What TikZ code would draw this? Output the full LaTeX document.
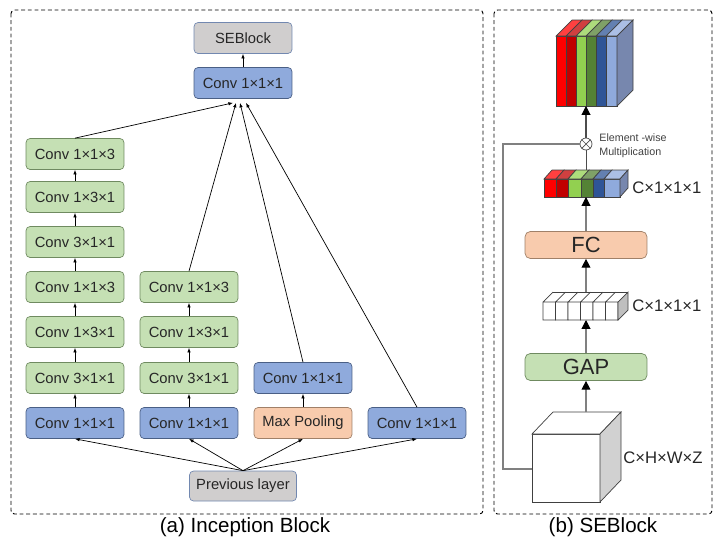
\documentclass[tikz,border=0pt]{standalone}
\usepackage{fontspec}
\setmainfont{Liberation Sans}
\usepackage{tikz}
\usetikzlibrary{arrows.meta, calc, positioning}
\usepackage{xcolor}
% colori dei blocchi
\definecolor{bluconv}{HTML}{8FAADC}
\definecolor{bordoblu}{HTML}{4A5F85}
\definecolor{verdeconv}{HTML}{C5E0B4}
\definecolor{bordoverde}{HTML}{6F8A60}
\definecolor{arancio}{HTML}{F8CBAD}
\definecolor{bordoarancio}{HTML}{A08068}
\definecolor{grigiobox}{HTML}{D0CECE}
% colori delle fette
\definecolor{fetta1}{HTML}{FF0000}
\definecolor{fetta2}{HTML}{C00000}
\definecolor{fetta3}{HTML}{92D050}
\definecolor{fetta4}{HTML}{548235}
\definecolor{fetta5}{HTML}{2F5597}
\definecolor{fetta6}{HTML}{8FAADC}
\definecolor{latoblu}{HTML}{7787AE}

\begin{document}
\begin{tikzpicture}[x=0.02cm, y=-0.02cm,
    blocco/.style = {draw, rounded corners = 2.3pt, minimum width = 1.96cm, minimum height = 0.62cm, inner sep = 0pt, text = black!85, font = \fontsize{8.4}{10}\selectfont},
    conv/.style = {blocco, fill = bluconv, draw = bordoblu},
    verde/.style = {blocco, fill = verdeconv, draw = bordoverde},
    pool/.style = {blocco, fill = arancio, draw = bordoarancio},
    grigio/.style = {blocco, fill = grigiobox, draw = bluconv!80!black},
    grande/.style = {draw, rounded corners = 3pt, minimum width = 2.44cm, minimum height = 0.54cm, inner sep = 0pt, text = black!85, font = \fontsize{12.5}{14}\selectfont},
    freccia/.style = {-{Latex[length = 2.6pt, width = 2pt]}, line width = 0.4pt},
    frecciaSE/.style = {-{Triangle[length = 5pt, width = 5pt, color = black]}, draw = gray, line width = 0.6pt},
    cornice/.style = {dash pattern = on 2.2pt off 1.6pt, line width = 0.55pt, rounded corners = 2pt},
    faccia/.style = {draw = black!75, line width = 0.4pt},
    etichetta/.style = {anchor = west, inner sep = 0pt, text = black!85, font = \fontsize{9.5}{11}\selectfont}
]
    \useasboundingbox (0,0) rectangle (714,542);
    % Cornici
    \draw[cornice] (11,10) rectangle (483,514);
    \draw[cornice] (494,10) rectangle (712,514);
    \node[font = \fontsize{11.7}{14}\selectfont] (didaA) at (245,527) {(a) Inception Block};
    \node[font = \fontsize{11.7}{14}\selectfont] (didaB) at (603,527) {(b) SEBlock};
    % Uscita del blocco Inception
    \node[grigio] (se) at (243,38) {SEBlock};
    \node[conv] (uscita) at (243,83) {Conv 1×1×1};
    \draw[freccia] (uscita.north) -- (se.south);
    % Ramo 1
    \node[conv] (r1a) at (75,423) {Conv 1×1×1};
    \node[verde] (r1b) at (75,378) {Conv 3×1×1};
    \node[verde] (r1c) at (75,332) {Conv 1×3×1};
    \node[verde] (r1d) at (75,287) {Conv 1×1×3};
    \node[verde] (r1e) at (75,242) {Conv 3×1×1};
    \node[verde] (r1f) at (75,197) {Conv 1×3×1};
    \node[verde] (r1g) at (75,154) {Conv 1×1×3};
    % Ramo 2
    \node[conv] (r2a) at (189,423) {Conv 1×1×1};
    \node[verde] (r2b) at (189,378) {Conv 3×1×1};
    \node[verde] (r2c) at (189,332) {Conv 1×3×1};
    \node[verde] (r2d) at (189,287) {Conv 1×1×3};
    % Ramo 3
    \node[pool] (r3a) at (303,423) {Max Pooling};
    \node[conv] (r3b) at (303,378) {Conv 1×1×1};
    % Ramo 4
    \node[conv] (r4a) at (417,423) {Conv 1×1×1};
    % Ingresso
    \node[grigio, minimum width = 2.14cm, minimum height = 0.6cm] (prec) at (243,486) {Previous layer};
    % Frecce
    \foreach \dst in {r1a, r2a, r3a, r4a}
        \draw[freccia] (prec.north) -- (\dst.south);
    \foreach \a/\b in {r1a/r1b, r1b/r1c, r1c/r1d, r1d/r1e, r1e/r1f, r1f/r1g, r2a/r2b, r2b/r2c, r2c/r2d, r3a/r3b}
        \draw[freccia] (\a.north) -- (\b.south);
    \draw[freccia] (r1g.north) -- ($(uscita.south)+(-10,4)$);
    \draw[freccia] (r2d.north) -- ($(uscita.south)+(-7,4)$);
    \draw[freccia] (r3b.north) -- ($(uscita.south)+(-3,4)$);
    \draw[freccia] (r4a.north) -- ($(uscita.south)+(3,4)$);

    % SEBlock: cubo di ingresso
    \filldraw[faccia, fill = white] (532,434) rectangle (600,502);
    \filldraw[faccia, fill = white] (532,434) -- (553,412) -- (621,412) -- (600,434) -- cycle;
    \filldraw[faccia, fill = black!18] (600,434) -- (621,412) -- (621,480) -- (600,502) -- cycle;
    \node[etichetta] (dimIn) at (623,458) {C×H×W×Z};
    \coordinate (cuboTop) at (586,412);
    \coordinate (cuboSx) at (532,469);
    % GAP e FC
    \node[grande, fill = verdeconv, draw = bordoverde] (gap) at (586,367) {GAP};
    \node[grande, fill = arancio, draw = bordoarancio] (fc) at (586,245) {FC};
    % vettore dopo GAP
    \foreach \i in {0,...,5}
        \draw[faccia, fill = white] ({543+12.5*\i},320) rectangle ({555.5+12.5*\i},302)
            ({543+12.5*\i},302) -- ({553+12.5*\i},292);
    \draw[faccia] (553,292) -- (628,292);
    \filldraw[faccia, fill = black!25] (618,302) -- (628,292) -- (628,310) -- (618,320) -- cycle;
    \node[etichetta] (dimGap) at (632,306) {C×1×1×1};
    \coordinate (barreBase) at (586,320);
    \coordinate (barreTop) at (586,292);
    % vettore dei pesi
    \foreach \xa/\xb/\col in {544/556/fetta1, 556/568/fetta2, 568/581/fetta3, 581/593/fetta4, 593/604/fetta5, 604/620/fetta6} {
        \filldraw[faccia, fill = \col] (\xa,197) rectangle (\xb,179);
        \filldraw[faccia, fill = \col!75!white] (\xa,179) -- (\xa+8,170) -- (\xb+8,170) -- (\xb,179) -- cycle;
    }
    \filldraw[faccia, fill = latoblu] (620,179) -- (628,170) -- (628,188) -- (620,197) -- cycle;
    \node[etichetta] (dimPesi) at (632,188) {C×1×1×1};
    \coordinate (pesiBase) at (586,197);
    \coordinate (pesiTop) at (586,170);
    % moltiplicazione
    \node[circle, draw = black!70, line width = 0.4pt, minimum size = 0.24cm, inner sep = 0pt] (molt) at (586,144) {};
    \draw[black!70, line width = 0.4pt] (molt.north east) -- (molt.south west) (molt.north west) -- (molt.south east);
    \node[anchor = west, align = left, inner sep = 0pt, text = black!75, font = \fontsize{6.1}{7.9}\selectfont] (testoMolt) at (599,146) {Element -wise\\Multiplication};
    % cubo di uscita
    \foreach \xa/\xb/\col in {556/566/fetta1, 566/576/fetta2, 576/586/fetta3, 586/596/fetta4, 596/606/fetta5, 606/617/fetta6} {
        \filldraw[faccia, fill = \col] (\xa,106) rectangle (\xb,36);
        \filldraw[faccia, fill = \col!75!white] (\xa,36) -- (\xa+16,20) -- (\xb+16,20) -- (\xb,36) -- cycle;
    }
    \filldraw[faccia, fill = latoblu] (617,36) -- (633,20) -- (633,90) -- (617,106) -- cycle;
    \coordinate (cuboRisBase) at (586,106);
    % Frecce SE
    \draw[frecciaSE] (cuboTop) -- (gap.south);
    \draw[frecciaSE] (gap.north) -- (barreBase);
    \draw[frecciaSE] (barreTop) -- (fc.south);
    \draw[frecciaSE] (fc.north) -- (pesiBase);
    \draw[black!70, line width = 0.5pt] (pesiTop) -- (molt.south);
    \draw[frecciaSE, draw = black!70] (molt.north) -- (cuboRisBase);
    \draw[gray, line width = 0.6pt] (cuboSx) -| (503,144) -- (molt.west);
\end{tikzpicture}
\end{document}
